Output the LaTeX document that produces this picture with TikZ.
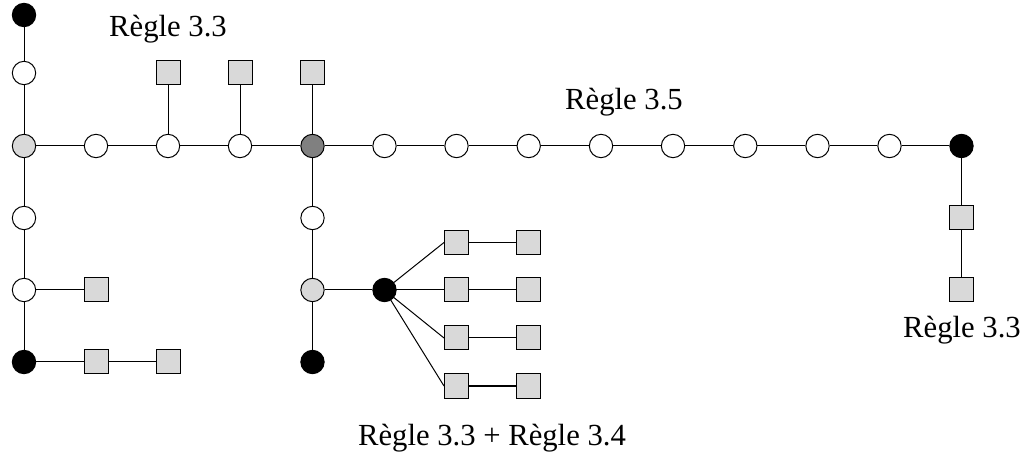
\documentclass[tikz,border=0pt]{standalone}
\usepackage{fontspec}
\setmainfont{Liberation Serif}
\begin{document}
\begin{tikzpicture}[x=0.75pt,y=-0.75pt,line width=0.75pt,
  vtx/.style={circle,draw,minimum size=17.5pt,inner sep=0pt},
  wv/.style={vtx,fill=white},
  lv/.style={vtx,fill=gray!30},
  dv/.style={vtx,fill=gray},
  bv/.style={vtx,fill=black},
  sq/.style={rectangle,draw,fill=gray!30,minimum size=18pt,inner sep=0pt},
  lbl/.style={font=\fontsize{23}{27}\selectfont,anchor=base,inner sep=0pt}]
\useasboundingbox (0,0) rectangle (1024,459);
% left column
\node[bv] (t) at (24,15) {};
\node[wv] (a1) at (24,73) {};
\node[lv] (a2) at (24,146) {};
\node[wv] (a3) at (24,218) {};
\node[wv] (a4) at (24,290) {};
\node[bv] (a5) at (24,362) {};
\node[sq] (s41) at (96,290) {};
\node[sq] (s51) at (96,362) {};
\node[sq] (s52) at (168,362) {};
% top row
\node[wv] (r1) at (96,146) {};
\node[wv] (r2) at (168,146) {};
\node[wv] (r3) at (240,146) {};
\node[dv] (r4) at (312.5,146) {};
\node[wv] (r5) at (384.5,146) {};
\node[wv] (r6) at (456.5,146) {};
\node[wv] (r7) at (528.7,146) {};
\node[wv] (r8) at (601,146) {};
\node[wv] (r9) at (673,146) {};
\node[wv] (r10) at (745.3,146) {};
\node[wv] (r11) at (817.5,146) {};
\node[wv] (r12) at (889.5,146) {};
\node[bv] (r13) at (961.5,146) {};
\node[sq] (u2) at (168,73) {};
\node[sq] (u3) at (240,73) {};
\node[sq] (u4) at (312.5,73) {};
% right column
\node[sq] (v1) at (961.5,218) {};
\node[sq] (v2) at (961.5,290) {};
% middle column
\node[wv] (m1) at (312.5,218) {};
\node[lv] (m2) at (312.5,290) {};
\node[bv] (m3) at (312.5,362) {};
\node[bv] (h) at (384.5,290) {};
\node[sq] (f1) at (456.5,242.5) {};
\node[sq] (f2) at (456.5,290) {};
\node[sq] (f3) at (456.5,338) {};
\node[sq] (f4) at (456.5,386) {};
\node[sq] (g1) at (528.7,242.5) {};
\node[sq] (g2) at (528.7,290) {};
\node[sq] (g3) at (528.7,338) {};
\node[sq] (g4) at (528.7,386) {};
% edges
\draw (t) -- (a1) -- (a2) -- (a3) -- (a4) -- (a5);
\draw (a4) -- (s41);
\draw (a5) -- (s51) -- (s52);
\draw (a2) -- (r1) -- (r2) -- (r3) -- (r4) -- (r5) -- (r6) -- (r7) -- (r8) -- (r9) -- (r10) -- (r11) -- (r12) -- (r13);
\draw (r2) -- (u2);
\draw (r3) -- (u3);
\draw (r4) -- (u4);
\draw (r13) -- (v1) -- (v2);
\draw (r4) -- (m1) -- (m2) -- (m3);
\draw (m2) -- (h);
\foreach \i in {1,2,3,4} {\draw (h.center) -- (f\i.west); \draw (f\i) -- (g\i);}
% labels
\node[lbl] (L1) at (168,37) {Règle 3.3};
\node[lbl] (L2) at (624,110) {Règle 3.5};
\node[lbl] (L3) at (962,338) {Règle 3.3};
\node[lbl] (L4) at (492,445) {Règle 3.3 + Règle 3.4};
\end{tikzpicture}
\end{document}
